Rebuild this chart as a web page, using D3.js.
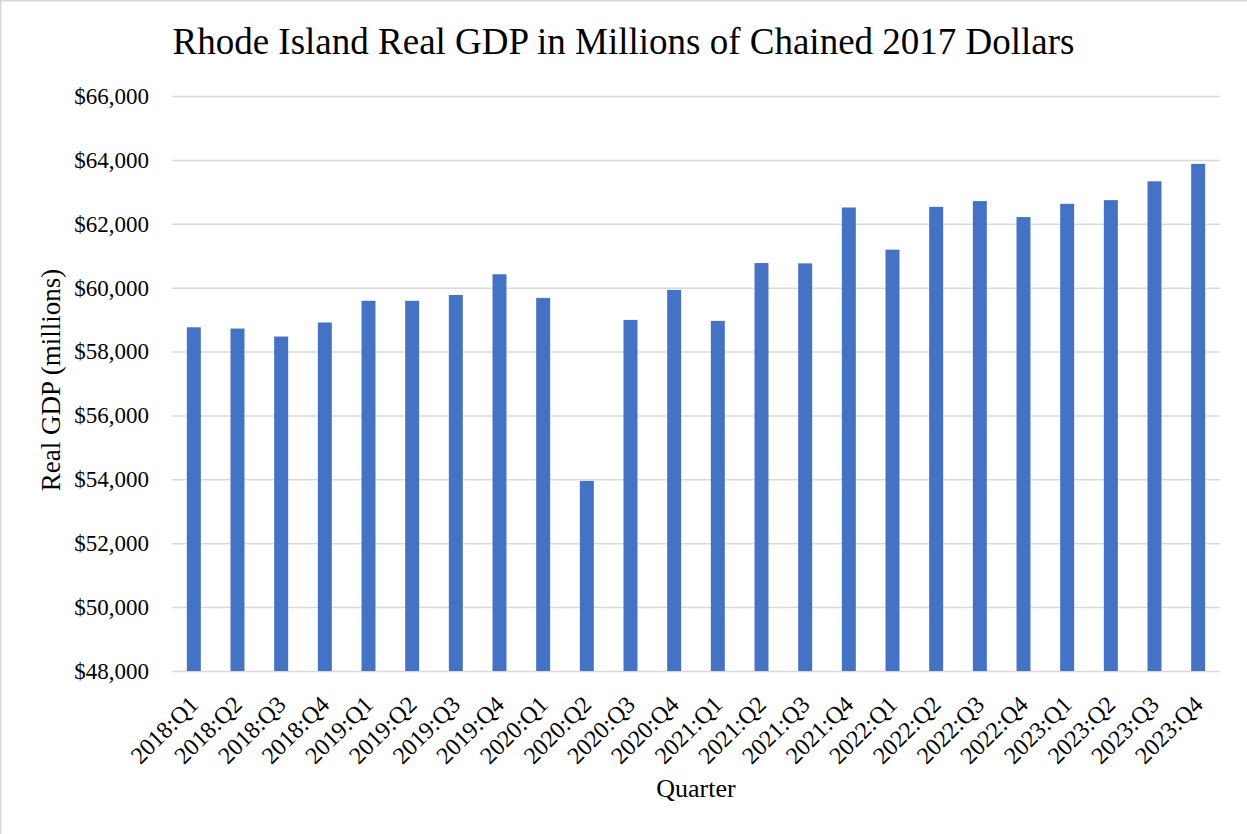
<!DOCTYPE html>
<html>
<head>
<meta charset="utf-8">
<script src="https://cdn.jsdelivr.net/npm/d3@7/dist/d3.min.js"></script>
<style>
  html, body { margin: 0; padding: 0; background: #ffffff; }
  svg { display: block; }
  text { font-family: "Liberation Serif", "Times New Roman", serif; fill: #000000; }
</style>
</head>
<body>
<svg id="chart" width="1247" height="834"></svg>
<script>
// Quarterly real GDP for Rhode Island, millions of chained 2017 dollars
const quarters = [
  "2018:Q1", "2018:Q2", "2018:Q3", "2018:Q4",
  "2019:Q1", "2019:Q2", "2019:Q3", "2019:Q4",
  "2020:Q1", "2020:Q2", "2020:Q3", "2020:Q4",
  "2021:Q1", "2021:Q2", "2021:Q3", "2021:Q4",
  "2022:Q1", "2022:Q2", "2022:Q3", "2022:Q4",
  "2023:Q1", "2023:Q2", "2023:Q3", "2023:Q4"
];
const realGdp = [
  58760, 58720, 58470, 58910,
  59590, 59590, 59770, 60420,
  59680, 53950, 58990, 59930,
  58960, 60770, 60760, 62510,
  61190, 62530, 62710, 62210,
  62625, 62740, 63330, 63875
];
const yTicks = [48000, 50000, 52000, 54000, 56000, 58000, 60000, 62000, 64000, 66000];
const chartTitle = "Rhode Island Real GDP in Millions of Chained 2017 Dollars";
const xTitle = "Quarter";
const yTitle = "Real GDP (millions)";

const W = 1247, H = 834;
const plot = { left: 172, right: 1220, top: 96, bottom: 671 };
const barColor = "#4472C4";
const gridColor = "#d9d9d9";

const svg = d3.select("#chart");

// outer chart border
svg.append("rect")
  .attr("x", 0.75).attr("y", 0.75)
  .attr("width", W + 20).attr("height", H + 20)
  .attr("fill", "none")
  .attr("stroke", gridColor)
  .attr("stroke-width", 1.5);

const x = d3.scaleBand()
  .domain(quarters)
  .range([plot.left, plot.right])
  .paddingInner(0.68)
  .paddingOuter(0.34);

const y = d3.scaleLinear()
  .domain([yTicks[0], yTicks[yTicks.length - 1]])
  .range([plot.bottom, plot.top]);

// horizontal gridlines with dollar labels
const yAxis = d3.axisLeft(y)
  .tickValues(yTicks)
  .tickSize(-(plot.right - plot.left))
  .tickPadding(23)
  .tickFormat(d => "$" + d3.format(",")(d));

const yg = svg.append("g")
  .attr("transform", `translate(${plot.left},0)`)
  .call(yAxis);
yg.select(".domain").remove();
yg.selectAll(".tick line")
  .attr("stroke", gridColor)
  .attr("stroke-width", 1.5);
yg.selectAll(".tick text")
  .attr("font-size", 23)
  .attr("font-family", "Liberation Serif, Times New Roman, serif")
  .attr("fill", "#000");

// bars
svg.append("g")
  .selectAll("rect")
  .data(quarters)
  .join("rect")
  .attr("x", d => x(d))
  .attr("width", x.bandwidth())
  .attr("y", (d, i) => y(realGdp[i]))
  .attr("height", (d, i) => y(yTicks[0]) - y(realGdp[i]))
  .attr("fill", barColor);

// rotated quarter labels
const xAxis = d3.axisBottom(x).tickSize(0).tickPadding(0);
const xg = svg.append("g")
  .attr("transform", `translate(0,${plot.bottom})`)
  .call(xAxis);
xg.select(".domain").remove();
xg.selectAll(".tick text")
  .attr("font-size", 24)
  .attr("font-family", "Liberation Serif, Times New Roman, serif")
  .attr("fill", "#000")
  .attr("text-anchor", "end")
  .attr("y", 0)
  .attr("dy", "0.35em")
  .attr("transform", "translate(0,29) rotate(-45)");

// titles
svg.append("text")
  .attr("x", W / 2)
  .attr("y", 54)
  .attr("text-anchor", "middle")
  .attr("font-size", 37)
  .text(chartTitle);

svg.append("text")
  .attr("x", (plot.left + plot.right) / 2)
  .attr("y", 797)
  .attr("text-anchor", "middle")
  .attr("font-size", 26)
  .text(xTitle);

svg.append("text")
  .attr("transform", `translate(60,${380}) rotate(-90)`)
  .attr("text-anchor", "middle")
  .attr("font-size", 27)
  .text(yTitle);
</script>
</body>
</html>
